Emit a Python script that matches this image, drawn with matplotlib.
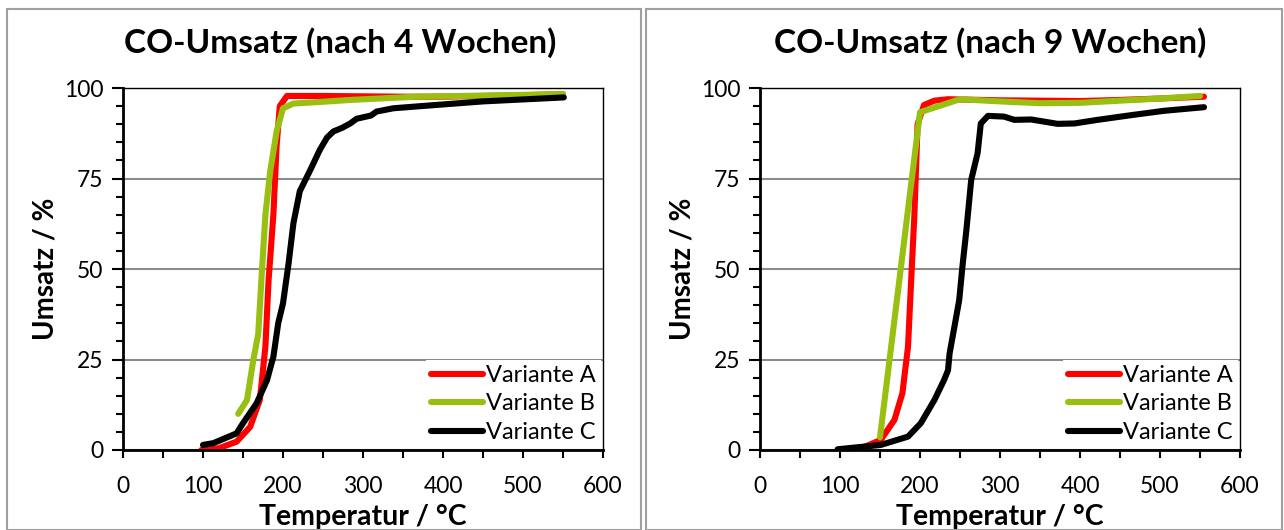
import matplotlib
matplotlib.use("Agg")
import matplotlib.pyplot as plt
from matplotlib.patches import Rectangle
from matplotlib.ticker import MultipleLocator

plt.rcParams['font.family'] = ['Lato', 'DejaVu Sans']

# --- data ---
titles = ["CO-Umsatz (nach 4 Wochen)", "CO-Umsatz (nach 9 Wochen)"]
labels = ["Variante A", "Variante B", "Variante C"]
colors = ["#ff0000", "#99c010", "#000000"]

# nach 4 Wochen
a4_t = [98, 120, 142, 159, 171, 178, 182, 188, 192, 196, 205, 250, 300, 350, 400, 450, 500, 550]
a4_u = [0, 0.5, 2.3, 6.4, 13.8, 28.5, 47, 65, 84, 95, 97.8, 97.8, 97.7, 97.6, 97.6, 97.8, 98.0, 98.3]
b4_t = [144, 155, 163, 169, 173, 178, 184, 192, 200, 213, 250, 284, 367, 450, 550]
b4_u = [10, 13.8, 25, 32, 47, 65, 77, 88, 94.4, 95.7, 96.2, 96.7, 97.6, 97.9, 98.3]
c4_t = [100, 113, 142, 150, 167, 180, 188, 194, 200, 207, 213, 221, 234, 246, 255, 263, 274,
        284, 292, 300, 310, 317, 338, 367, 450, 551]
c4_u = [1.4, 1.9, 4.6, 7.4, 12.9, 19.3, 25.8, 35, 40.5, 51.6, 62.6, 71.5, 77.3, 82.9, 86.3,
        88, 89, 90.2, 91.5, 91.9, 92.4, 93.5, 94.4, 94.9, 96.3, 97.4]

# nach 9 Wochen
a9_t = [101, 130, 151, 168, 178, 185, 189, 193, 197, 205, 218, 235, 300, 400, 450, 500, 555]
a9_u = [0, 0.8, 2.8, 8.3, 15.7, 28.5, 47, 65, 90, 95.3, 96.5, 96.9, 96.6, 96.4, 96.7, 97.1, 97.6]
b9_t = [150, 200, 250, 300, 350, 400, 450, 500, 550]
b9_u = [3.5, 93.3, 96.9, 96.3, 95.8, 95.9, 96.5, 97.1, 97.8]
c9_t = [97, 151, 185, 201, 218, 230, 235, 237, 243, 249, 253, 258, 264, 272, 276, 285,
        305, 318, 339, 372, 393, 422, 464, 505, 555]
c9_u = [0.2, 1.4, 3.7, 7.4, 13.8, 19.3, 22, 26.7, 34, 41.4, 50.6, 60.8, 74.6, 82, 90.2,
        92.3, 92.1, 91.2, 91.3, 90.1, 90.2, 91.2, 92.5, 93.7, 94.7]

panels = [
    [(a4_t, a4_u), (b4_t, b4_u), (c4_t, c4_u)],
    [(a9_t, a9_u), (b9_t, b9_u), (c9_t, c9_u)],
]

W, H = 1284, 530
fig = plt.figure(figsize=(W / 100, H / 100), dpi=100)

# outer chart boxes (excel style)
for x0, x1 in [(7, 641), (646, 1282)]:
    fig.patches.append(Rectangle((x0 / W, 0), (x1 - x0) / W, 1 - 9 / H,
                                 transform=fig.transFigure, fill=False,
                                 edgecolor="#a0a0a0", linewidth=1.5))

ax_left = [123, 760]
title_x = [0.452, 0.479]
for i, series in enumerate(panels):
    ax = fig.add_axes([ax_left[i] / W, 1 - 450 / H, 480 / W, 362 / H])
    for (t, u), lab, col in zip(series, labels, colors):
        ax.plot(t, u, color=col, lw=4.4, label=lab, solid_capstyle="round",
                solid_joinstyle="round")
    ax.set_xlim(0, 600)
    ax.set_ylim(0, 100)
    ax.xaxis.set_major_locator(MultipleLocator(100))
    ax.xaxis.set_minor_locator(MultipleLocator(50))
    ax.yaxis.set_major_locator(MultipleLocator(25))
    ax.yaxis.set_minor_locator(MultipleLocator(5))
    ax.grid(axis="y", which="major", color="#8c8c8c", lw=1.5)
    ax.set_axisbelow(True)
    for s in ["left", "bottom"]:
        ax.spines[s].set_linewidth(2)
    for s in ["top", "right"]:
        ax.spines[s].set_linewidth(1)
    ax.tick_params(axis="x", which="both", direction="out", length=6, width=1.5,
                   labelsize=16.5, pad=13)
    ax.tick_params(axis="y", which="major", direction="out", length=8, width=1.5,
                   labelsize=16.5, pad=6)
    ax.tick_params(axis="y", which="minor", direction="out", length=5, width=1.5)
    ax.set_title(titles[i], fontsize=24, fontweight="bold", pad=25, x=title_x[i])
    ax.set_ylabel("Umsatz / %", fontsize=20, fontweight="bold", labelpad=4)
    ax.set_xlabel("Temperatur / °C", fontsize=20.5, fontweight="bold", labelpad=5)
    leg = ax.legend(loc="lower right", frameon=True, fancybox=False, fontsize=17,
                    handlelength=2.2, handletextpad=0.15, borderaxespad=0.1,
                    labelspacing=0.32, borderpad=0.2)
    leg.get_frame().set_edgecolor("none")
    leg.get_frame().set_alpha(1)
    leg.set_zorder(10)

fig.savefig("out.png", dpi=100)
